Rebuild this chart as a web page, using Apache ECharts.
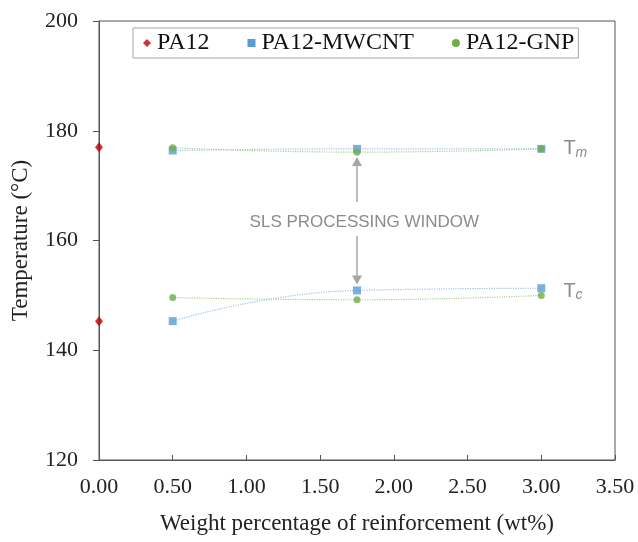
<!DOCTYPE html>
<html>
<head>
<meta charset="utf-8">
<script src="https://cdn.jsdelivr.net/npm/echarts@6/dist/echarts.min.js"></script>
<style>
  html, body { margin: 0; padding: 0; background: #fff; }
  #chart { width: 638px; height: 542px; }
</style>
</head>
<body>
<div id="chart"></div>
<script>
// values (wt% -> temperature in °C)
const pa12 = [[0, 177.0], [0, 145.3]];
const loadings = [0.5, 1.75, 3.0];
const mwcntTm = [176.4, 176.7, 176.7];
const mwcntTc = [145.3, 150.9, 151.3];
const gnpTm = [176.9, 176.1, 176.7];
const gnpTc = [149.6, 149.2, 150.0];
const xTicks = [0, 0.5, 1, 1.5, 2, 2.5, 3, 3.5];
const yTicks = [120, 140, 160, 180, 200];

const pts = (vals) => loadings.map((x, i) => [x, vals[i]]);

const serif = '"Liberation Serif", "Times New Roman", serif';
const sans = '"Liberation Sans", Arial, sans-serif';
const blue = '#5b9bd5';
const green = '#70ad47';
const red = '#c00000';
const grey = '#8c8c8c';

const chart = echarts.init(document.getElementById('chart'));

function trend(name, vals, color) {
  return {
    name: name,
    type: 'line',
    data: pts(vals),
    smooth: true,
    symbol: 'none',
    silent: true,
    z: 1,
    itemStyle: { color: color },
    lineStyle: { color: color, width: 1.2, type: 'dotted' }
  };
}

const option = {
  animation: false,
  backgroundColor: '#fff',
  grid: {
    left: 99, right: 23, top: 21, bottom: 82,
    outerBoundsMode: 'none', containLabel: false,
    show: true, borderColor: '#555', borderWidth: 1
  },
  legend: {
    data: [
      { name: 'PA12', icon: 'diamond', itemStyle: { color: red } },
      { name: 'PA12-MWCNT', icon: 'rect', itemStyle: { color: blue } },
      { name: 'PA12-GNP', icon: 'circle', itemStyle: { color: green } }
    ],
    left: 133, top: 28,
    itemWidth: 8, itemHeight: 8, itemGap: 38,
    padding: [3, 4, 3, 10],
    borderColor: '#a6a6a6', borderWidth: 1,
    backgroundColor: '#fff',
    textStyle: { fontFamily: serif, fontSize: 24, color: '#111', padding: [0, 0, 0, 1] }
  },
  xAxis: {
    type: 'value', min: 0, max: 3.5, interval: 0.5,
    name: 'Weight percentage of reinforcement (wt%)',
    nameLocation: 'middle', nameGap: 52,
    nameTextStyle: { fontFamily: serif, fontSize: 23, color: '#222' },
    axisLine: { lineStyle: { color: '#555' } },
    axisTick: { inside: true, length: 5, lineStyle: { color: '#555' } },
    axisLabel: {
      fontFamily: serif, fontSize: 22, color: '#222', margin: 16,
      formatter: (v) => xTicks.includes(v) ? v.toFixed(2) : ''
    },
    splitLine: { show: false }
  },
  yAxis: {
    type: 'value', min: 120, max: 200, interval: 20,
    name: 'Temperature (°C)',
    nameLocation: 'middle', nameGap: 67,
    nameTextStyle: { fontFamily: serif, fontSize: 23, color: '#222' },
    axisLine: { show: true, lineStyle: { color: '#555' } },
    axisTick: { inside: false, length: 6, lineStyle: { color: '#555' } },
    axisLabel: {
      fontFamily: serif, fontSize: 22, color: '#222', margin: 21,
      formatter: (v) => yTicks.includes(v) ? String(v) : ''
    },
    splitLine: { show: false }
  },
  series: [
    trend('PA12-MWCNT', mwcntTm, '#9dc3e6'),
    trend('PA12-MWCNT', mwcntTc, '#9dc3e6'),
    trend('PA12-GNP', gnpTm, '#a9d18e'),
    trend('PA12-GNP', gnpTc, '#a9d18e'),
    {
      name: 'PA12-MWCNT', type: 'scatter', symbol: 'rect', symbolSize: 8, z: 3,
      itemStyle: { color: blue },
      data: pts(mwcntTm).concat(pts(mwcntTc))
    },
    {
      name: 'PA12-GNP', type: 'scatter', symbol: 'circle', symbolSize: 7, z: 4,
      itemStyle: { color: green },
      data: pts(gnpTm).concat(pts(gnpTc))
    },
    {
      name: 'PA12', type: 'scatter', symbol: 'diamond', symbolSize: [8, 10], z: 5,
      clip: false,
      itemStyle: { color: red },
      data: pa12
    },
    {
      // annotations: processing window arrows and Tm / Tc tags
      type: 'scatter', symbolSize: 0, silent: true, z: 2,
      data: [],
      markLine: {
        silent: true,
        symbol: ['none', 'triangle'],
        symbolSize: [10, 9],
        lineStyle: { color: '#a6a6a6', width: 1.5, type: 'solid' },
        label: { show: false },
        data: [
          [{ coord: [1.75, 167.0] }, { coord: [1.75, 174.4] }],
          [{ coord: [1.75, 160.8] }, { coord: [1.75, 152.8] }]
        ]
      },
      markPoint: {
        symbol: 'circle', symbolSize: 0, silent: true,
        label: {
          show: true,
          fontFamily: sans, color: grey, fontSize: 17,
          rich: {
            t: { fontFamily: sans, fontSize: 20, color: grey },
            s: { fontFamily: sans, fontSize: 14, color: grey, fontStyle: 'italic', padding: [9, 0, 0, 0] }
          }
        },
        data: [
          { coord: [1.8, 163.4], label: { formatter: 'SLS PROCESSING WINDOW', align: 'center' } },
          { coord: [3.15, 176.7], label: { formatter: '{t|T}{s|m}', align: 'left' } },
          { coord: [3.15, 150.8], label: { formatter: '{t|T}{s|c}', align: 'left' } }
        ]
      }
    }
  ]
};

chart.setOption(option);
</script>
</body>
</html>
